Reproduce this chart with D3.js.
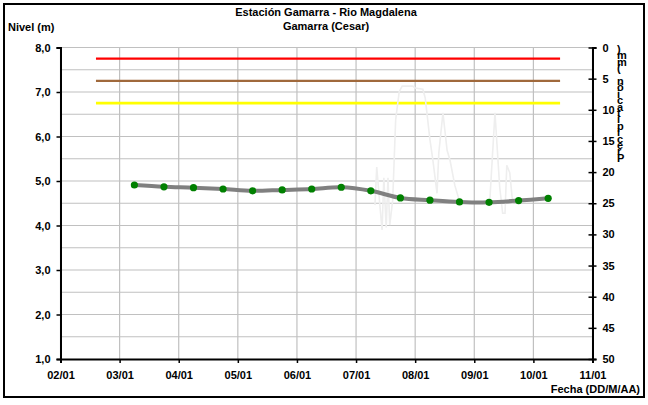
<!DOCTYPE html>
<html><head><meta charset="utf-8">
<script src="https://cdn.jsdelivr.net/npm/d3@7"></script>
<style>
body{margin:0;background:#fff}
text{font-family:"Liberation Sans",Arial,sans-serif;font-weight:bold;font-size:11px;fill:#000}
</style>
</head><body>
<svg id="c" width="648" height="405"></svg>
<script>
// ---- data ----
const levelTimes = ["03/01 06:00","03/01 18:00","04/01 06:00","04/01 18:00","05/01 06:00","05/01 18:00",
  "06/01 06:00","06/01 18:00","07/01 06:00","07/01 18:00","08/01 06:00","08/01 18:00",
  "09/01 06:00","09/01 18:00","10/01 06:00"];
const levelValues = [4.91,4.87,4.85,4.82,4.78,4.80,4.82,4.86,4.78,4.62,4.57,4.53,4.52,4.56,4.61];
// precipitation trace (days after 02/01 00:00, mm)
const precipDays = [5.32,5.35,5.40,5.44,5.47,5.51,5.54,5.57,5.62,5.67,5.73,5.78,5.96,6.00,6.13,6.17,
  6.25,6.30,6.37,6.40,6.47,6.54,6.59,6.67,6.76,7.26,7.35,7.43,7.48,7.52,7.55,7.60,7.65];
const precipValues = [25.3,19.2,25.0,29.3,20.9,28.9,20.9,28.5,24.5,11.6,7.1,6.2,6.2,6.5,6.7,8.1,
  14.8,18.1,23.4,16.9,10.5,16.5,18.1,22.1,25.0,25.0,10.5,22.4,26.6,26.6,18.9,20.1,25.0];
const refLevels = [7.75, 7.25, 6.75];
const refStart = "02/01 14:24", refEnd = "10/01 10:50";
const xDomain = ["02/01 00:00","11/01 00:00"];
const leftTicks = [1,2,3,4,5,6,7,8];
const rightTicks = [0,5,10,15,20,25,30,35,40,45,50];
const title1 = "Estación Gamarra - Rio Magdalena";
const title2 = "Gamarra (Cesar)";
const yTitle = "Nivel (m)";
const xTitle = "Fecha (DD/M/AA)";
const y2Title = "Precipitación (mm)";

// ---- drawing ----
const parse = d3.timeParse("%d/%m %H:%M");
const svg = d3.select("#c");
const L = 60.5, R = 592.5, T = 47.5, B = 359;
const x = d3.scaleTime().domain(xDomain.map(parse)).range([L, R]);
const y = d3.scaleLinear().domain([1, 8]).range([B, T]);
const y2 = d3.scaleLinear().domain([0, 50]).range([T, B]);
const base = parse(xDomain[0]);

svg.append("rect").attr("x",4).attr("y",4).attr("width",640).attr("height",393)
  .attr("fill","#fff").attr("stroke","#000").attr("stroke-width",2);

// grid
const grid = svg.append("g").attr("stroke","#c0c0c0").attr("stroke-width",1.2);
d3.range(1.5, 8.01, 0.5).forEach(v => {
  grid.append("line").attr("x1",L).attr("x2",R).attr("y1",y(v)).attr("y2",y(v));
});
x.ticks(d3.timeDay.every(1)).forEach(t => {
  grid.append("line").attr("x1",x(t)).attr("x2",x(t)).attr("y1",T).attr("y2",B);
});

// reference lines
const refColors = ["#ff0000","#a0693c","#ffff00"];
const refWidths = [2.2, 2.2, 2.6];
refLevels.forEach((v,i) => {
  svg.append("line").attr("x1",x(parse(refStart))).attr("x2",x(parse(refEnd)))
    .attr("y1",y(v)).attr("y2",y(v)).attr("stroke",refColors[i]).attr("stroke-width",refWidths[i]);
});

// precipitation trace
const pData = precipDays.map((d,i) => ({t: new Date(+base + d*86400000), v: precipValues[i]}));
svg.append("path").datum(pData)
  .attr("d", d3.line().x(d => x(d.t)).y(d => y2(d.v)))
  .attr("fill","none").attr("stroke","#eeeeee").attr("stroke-width",1.6);

// level line
const lData = levelTimes.map((t,i) => ({t: parse(t), v: levelValues[i]}));
svg.append("path").datum(lData)
  .attr("d", d3.line().curve(d3.curveCatmullRom.alpha(0.5)).x(d => x(d.t)).y(d => y(d.v)))
  .attr("fill","none").attr("stroke","#808080").attr("stroke-width",4);
svg.append("g").selectAll("circle").data(lData).join("circle")
  .attr("cx", d => x(d.t)).attr("cy", d => y(d.v)).attr("r",3.6).attr("fill","#008000");

// axes
const fmt1 = d3.format(".1f");
const gl = svg.append("g").attr("transform",`translate(${L},0)`)
  .call(d3.axisLeft(y).tickValues(leftTicks).tickSize(4).tickPadding(6)
    .tickFormat(d => fmt1(d).replace(".", ",")));
const gr = svg.append("g").attr("transform",`translate(${R},0)`)
  .call(d3.axisRight(y2).tickValues(rightTicks).tickSize(4).tickPadding(6));
const gb = svg.append("g").attr("transform",`translate(0,${B})`)
  .call(d3.axisBottom(x).ticks(d3.timeDay.every(1)).tickSize(4).tickPadding(6)
    .tickFormat(d3.timeFormat("%d/%m")));
[gl, gr, gb].forEach(g => {
  g.select(".domain").attr("stroke","#000").attr("stroke-width",2);
  g.selectAll(".tick line").attr("stroke","#000").attr("stroke-width",1.5);
  g.selectAll("text").attr("font-family",null).attr("font-size",null).style("fill","#000");
});
gr.selectAll(".tick line").attr("x1",-4);
gb.selectAll(".tick text").attr("dy","0.9em");

// titles
svg.append("text").attr("x",326).attr("y",16).attr("text-anchor","middle").text(title1);
svg.append("text").attr("x",326).attr("y",30).attr("text-anchor","middle").text(title2);
svg.append("text").attr("x",8).attr("y",31).text(yTitle);
svg.append("text").attr("x",640).attr("y",393).attr("text-anchor","end").text(xTitle);
const chars = Array.from(y2Title).reverse();
const vt = svg.append("text").attr("text-anchor","start");
chars.forEach((c,i) => {
  vt.append("tspan").attr("x",617).attr("y",53 + i*6.4).text(c);
});
</script>
</body></html>
